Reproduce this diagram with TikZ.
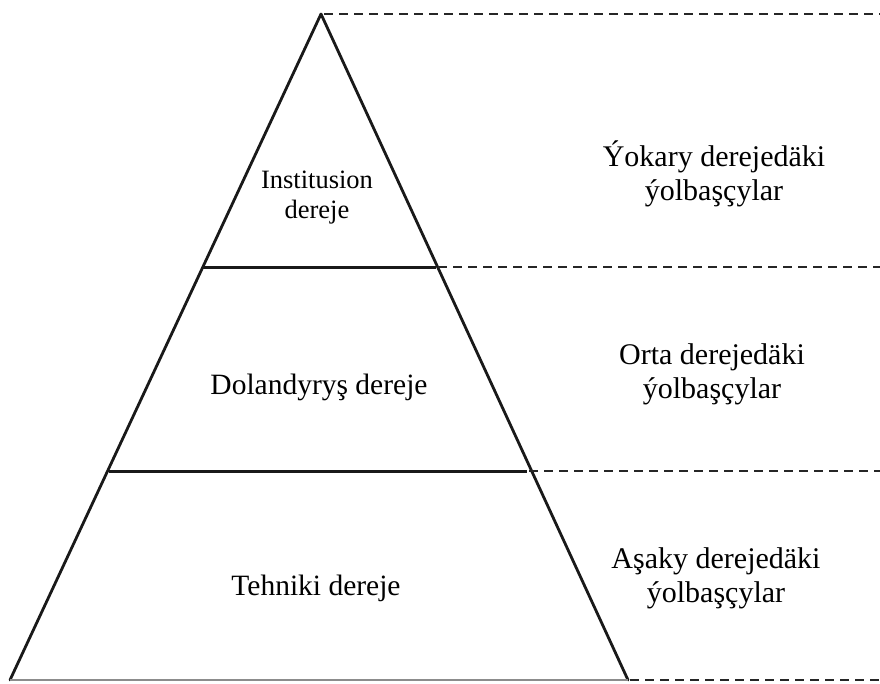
\documentclass[tikz,border=0pt]{standalone}
\usepackage{fontspec}
\setmainfont{Liberation Serif}
\begin{document}
\begin{tikzpicture}[x=1pt,y=-1pt,
  edge/.style={line width=2.8pt,black!90,line cap=round,line join=round},
  level/.style={line width=3pt,black!90},
  dashline/.style={line width=2.6pt,black!85,dash pattern=on 9pt off 6pt},
  inner/.style={font=\fontsize{29.5}{34}\selectfont,align=center,inner sep=0pt},
  small/.style={font=\fontsize{26.5}{30}\selectfont,align=center,inner sep=0pt},
  right/.style={font=\fontsize{30}{34}\selectfont,align=center,inner sep=0pt}]
\useasboundingbox (0,0) rectangle (880,683);
\coordinate (A) at (321,14);
\coordinate (BL) at (10,680);
\coordinate (BR) at (628,680);
\coordinate (L1) at (203,267);
\coordinate (R1) at (436,267);
\coordinate (L2) at (109,471);
\coordinate (R2) at (527,471);
\coordinate (E0) at (880,14);
\coordinate (E1) at (880,267);
\coordinate (E2) at (880,471);
\coordinate (E3) at (880,680);
\draw[edge] (BL) -- (A) -- (BR);
\draw[line width=2.4pt,black!45] (BL) -- (BR);
\draw[level] (L1) -- (R1);
\draw[level] (L2) -- (R2);
\draw[dashline] (A) ++(3,0) -- (E0);
\draw[dashline] (R1) ++(2,0) -- (E1);
\draw[dashline] (R2) ++(2,0) -- (E2);
\draw[dashline] (BR) ++(2,0) -- (E3);
\node[small] (t1) at (317,198) {Institusion\\dereje};
\node[inner] (t2) at (319,387) {Dolandyryş dereje};
\node[inner] (t3) at (316,588) {Tehniki dereje};
\node[right] (r1) at (714,174) {Ýokary derejedäki\\ýolbaşçylar};
\node[right] (r2) at (712,374) {Orta derejedäki\\ýolbaşçylar};
\node[right] (r3) at (716,578) {Aşaky derejedäki\\ýolbaşçylar};
\end{tikzpicture}
\end{document}
